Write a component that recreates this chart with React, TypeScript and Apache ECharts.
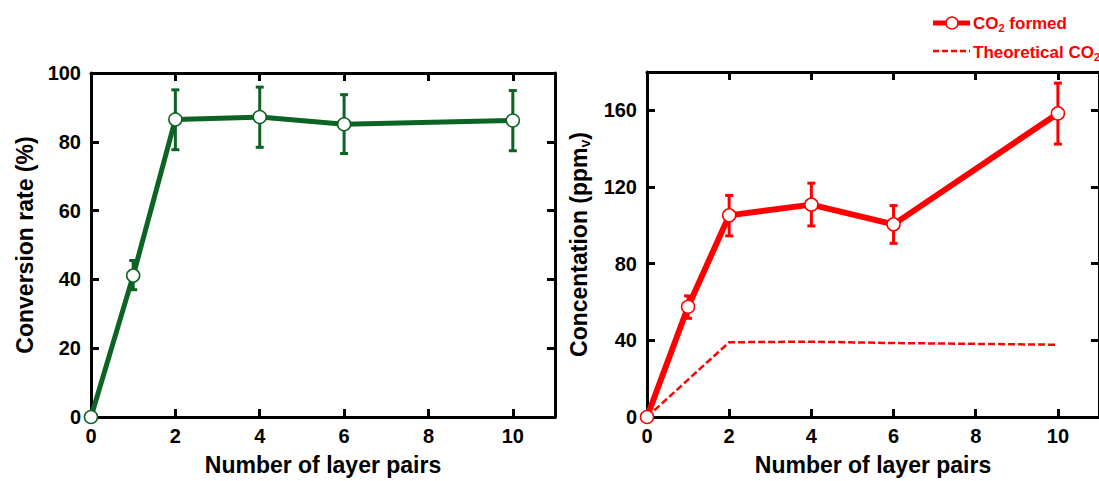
import React, { useEffect, useRef } from "react";
import * as echarts from "echarts";

const layerPairs = [0, 1, 2, 4, 6, 10];
const conversionRate = [0, 41.1, 86.5, 87.2, 85.1, 86.2];
const conversionLow = [null, 37.0, 77.7, 78.4, 76.6, 77.4];
const conversionHigh = [null, 45.5, 95.1, 95.9, 93.7, 94.9];

const co2Formed = [0, 57.5, 105.2, 110.8, 100.5, 158.4];
const co2Low = [null, 51.5, 94.5, 99.7, 90.6, 142.4];
const co2High = [null, 63.2, 115.6, 122.0, 110.3, 174.2];
const co2Theoretical = [0, 19.5, 39.0, 39.3, 38.6, 37.7];

const legendNames = ["{a|CO}{s|2}{a| formed}", "{a|Theoretical CO}{s|2}"];

const xTicks = { min: 0, max: 11, interval: 2 };
const yLeftTicks = { min: 0, max: 100, interval: 20 };
const yRightTicks = { min: 0, max: 180, interval: 40 };

const GREEN = "#0b6423";
const RED = "#ff0000";
const FONT = "'Liberation Sans', Arial, sans-serif";

function pairs(vals: (number | null)[]) {
  return layerPairs.map((x, i) => [x, vals[i]]);
}
function errs(lo: (number | null)[], hi: (number | null)[]) {
  const out: number[][] = [];
  layerPairs.forEach((x, i) => {
    if (lo[i] != null && hi[i] != null) out.push([x, lo[i] as number, hi[i] as number]);
  });
  return out;
}

function errorRender(color: string) {
  return (params: any, api: any) => {
    const x = api.value(0);
    const lo = api.coord([x, api.value(1)]);
    const hi = api.coord([x, api.value(2)]);
    const w = 4;
    const st = { stroke: color, lineWidth: 3 };
    return {
      type: "group",
      children: [
        { type: "line", shape: { x1: lo[0], y1: lo[1], x2: hi[0], y2: hi[1] }, style: st },
        { type: "line", shape: { x1: lo[0] - w, y1: lo[1], x2: lo[0] + w, y2: lo[1] }, style: st },
        { type: "line", shape: { x1: hi[0] - w, y1: hi[1], x2: hi[0] + w, y2: hi[1] }, style: st },
      ],
    };
  };
}

const axisLine = { show: true, onZero: false, lineStyle: { color: "#000", width: 3 } };
const axisTick = { show: true, inside: true, length: 8, lineStyle: { color: "#000", width: 3 } };
const labelStyle = { color: "#000", fontWeight: "bold" as const, fontSize: 20, fontFamily: FONT };
const nameStyle = { color: "#000", fontWeight: "bold" as const, fontSize: 23, fontFamily: FONT };

function xAxisPair(gridIndex: number) {
  return [
    {
      type: "value",
      gridIndex,
      position: "bottom",
      ...xTicks,
      axisLine,
      axisTick,
      splitLine: { show: false },
      axisLabel: { ...labelStyle, margin: 9, showMaxLabel: false },
      name: "Number of layer pairs",
      nameLocation: "middle",
      nameGap: 36,
      nameTextStyle: nameStyle,
    },
    {
      type: "value",
      gridIndex,
      position: "top",
      ...xTicks,
      axisLine,
      axisTick,
      splitLine: { show: false },
      axisLabel: { show: false },
    },
  ];
}

function yAxisPair(gridIndex: number, ticks: any, name: string, rich?: any) {
  return [
    {
      type: "value",
      gridIndex,
      position: "left",
      ...ticks,
      axisLine,
      axisTick,
      splitLine: { show: false },
      axisLabel: { ...labelStyle, margin: 10, showMaxLabel: ticks.max % ticks.interval === 0 },
      name,
      nameLocation: "middle",
      nameGap: 55,
      nameTextStyle: rich ? { ...nameStyle, rich } : nameStyle,
    },
    {
      type: "value",
      gridIndex,
      position: "right",
      ...ticks,
      axisLine,
      axisTick,
      splitLine: { show: false },
      axisLabel: { show: false },
    },
  ];
}

export default function App() {
  const ref = useRef<HTMLDivElement>(null);
  useEffect(() => {
    if (!ref.current) return;
    const chart = echarts.init(ref.current, null, { renderer: "svg" });
    const subRich = {
      a: { fontSize: 23, fontWeight: "bold", color: "#000", fontFamily: FONT },
      s: { fontSize: 14, fontWeight: "bold", color: "#000", fontFamily: FONT, padding: [12, 0, 0, 0] },
    };
    const legendRich = {
      a: { fontSize: 17, fontWeight: "bold", fill: RED, color: RED, fontFamily: FONT },
      s: { fontSize: 11, fontWeight: "bold", fill: RED, color: RED, fontFamily: FONT, padding: [9, 0, 0, 0] },
    };
    chart.setOption({
      animation: false,
      backgroundColor: "#fff",
      textStyle: { fontFamily: FONT },
      grid: [
        { left: 91, top: 73, width: 464, height: 348 },
        { left: 647, top: 72, width: 461, height: 349 },
      ],
      graphic: [
        { type: "line", shape: { x1: 933, y1: 23, x2: 970, y2: 23 }, style: { stroke: RED, lineWidth: 5 } },
        { type: "circle", shape: { cx: 952, cy: 23, r: 6 }, style: { fill: "#fff", stroke: RED, lineWidth: 1.5 } },
        {
          type: "text",
          x: 973,
          y: 23,
          style: { text: legendNames[0], rich: legendRich, fill: RED, verticalAlign: "middle", align: "left" },
        },
        {
          type: "line",
          shape: { x1: 933, y1: 51, x2: 970, y2: 51 },
          style: { stroke: RED, lineWidth: 2.5, lineDash: [6, 3] },
        },
        {
          type: "text",
          x: 973,
          y: 52,
          style: { text: legendNames[1], rich: legendRich, fill: RED, verticalAlign: "middle", align: "left" },
        },
      ],
      xAxis: [...xAxisPair(0), ...xAxisPair(1)],
      yAxis: [
        ...yAxisPair(0, yLeftTicks, "Conversion rate (%)"),
        ...yAxisPair(1, yRightTicks, "{a|Concentation (ppm}{s|v}{a|)}", subRich),
      ],
      series: [
        {
          type: "custom",
          name: "errLeft",
          xAxisIndex: 0,
          yAxisIndex: 0,
          renderItem: errorRender(GREEN),
          encode: { x: 0, y: [1, 2] },
          data: errs(conversionLow, conversionHigh),
          z: 1,
        },
        {
          type: "line",
          name: "Conversion",
          xAxisIndex: 0,
          yAxisIndex: 0,
          data: pairs(conversionRate),
          lineStyle: { color: GREEN, width: 5 },
          itemStyle: { color: "#fff", borderColor: GREEN, borderWidth: 1.5 },
          symbol: "circle",
          symbolSize: 13,
          showAllSymbol: true,
          clip: false,
          z: 3,
        },
        {
          type: "line",
          name: "Theoretical CO2",
          xAxisIndex: 2,
          yAxisIndex: 2,
          data: pairs(co2Theoretical),
          lineStyle: { color: RED, width: 2.5, type: [7, 3] },
          itemStyle: { color: RED },
          symbol: "none",
          clip: false,
          z: 2,
        },
        {
          type: "custom",
          name: "errRight",
          xAxisIndex: 2,
          yAxisIndex: 2,
          renderItem: errorRender(RED),
          encode: { x: 0, y: [1, 2] },
          data: errs(co2Low, co2High),
          z: 1,
        },
        {
          type: "line",
          name: "CO2 formed",
          xAxisIndex: 2,
          yAxisIndex: 2,
          data: pairs(co2Formed),
          lineStyle: { color: RED, width: 6 },
          itemStyle: { color: "#fff", borderColor: RED, borderWidth: 1.5 },
          symbol: "circle",
          symbolSize: 13,
          showAllSymbol: true,
          clip: false,
          z: 3,
        },
      ],
    });
    return () => chart.dispose();
  }, []);
  return (
    <div
      ref={ref}
      style={{ position: "fixed", left: 0, top: 0, width: 1099, height: 481, background: "#fff" }}
    />
  );
}
